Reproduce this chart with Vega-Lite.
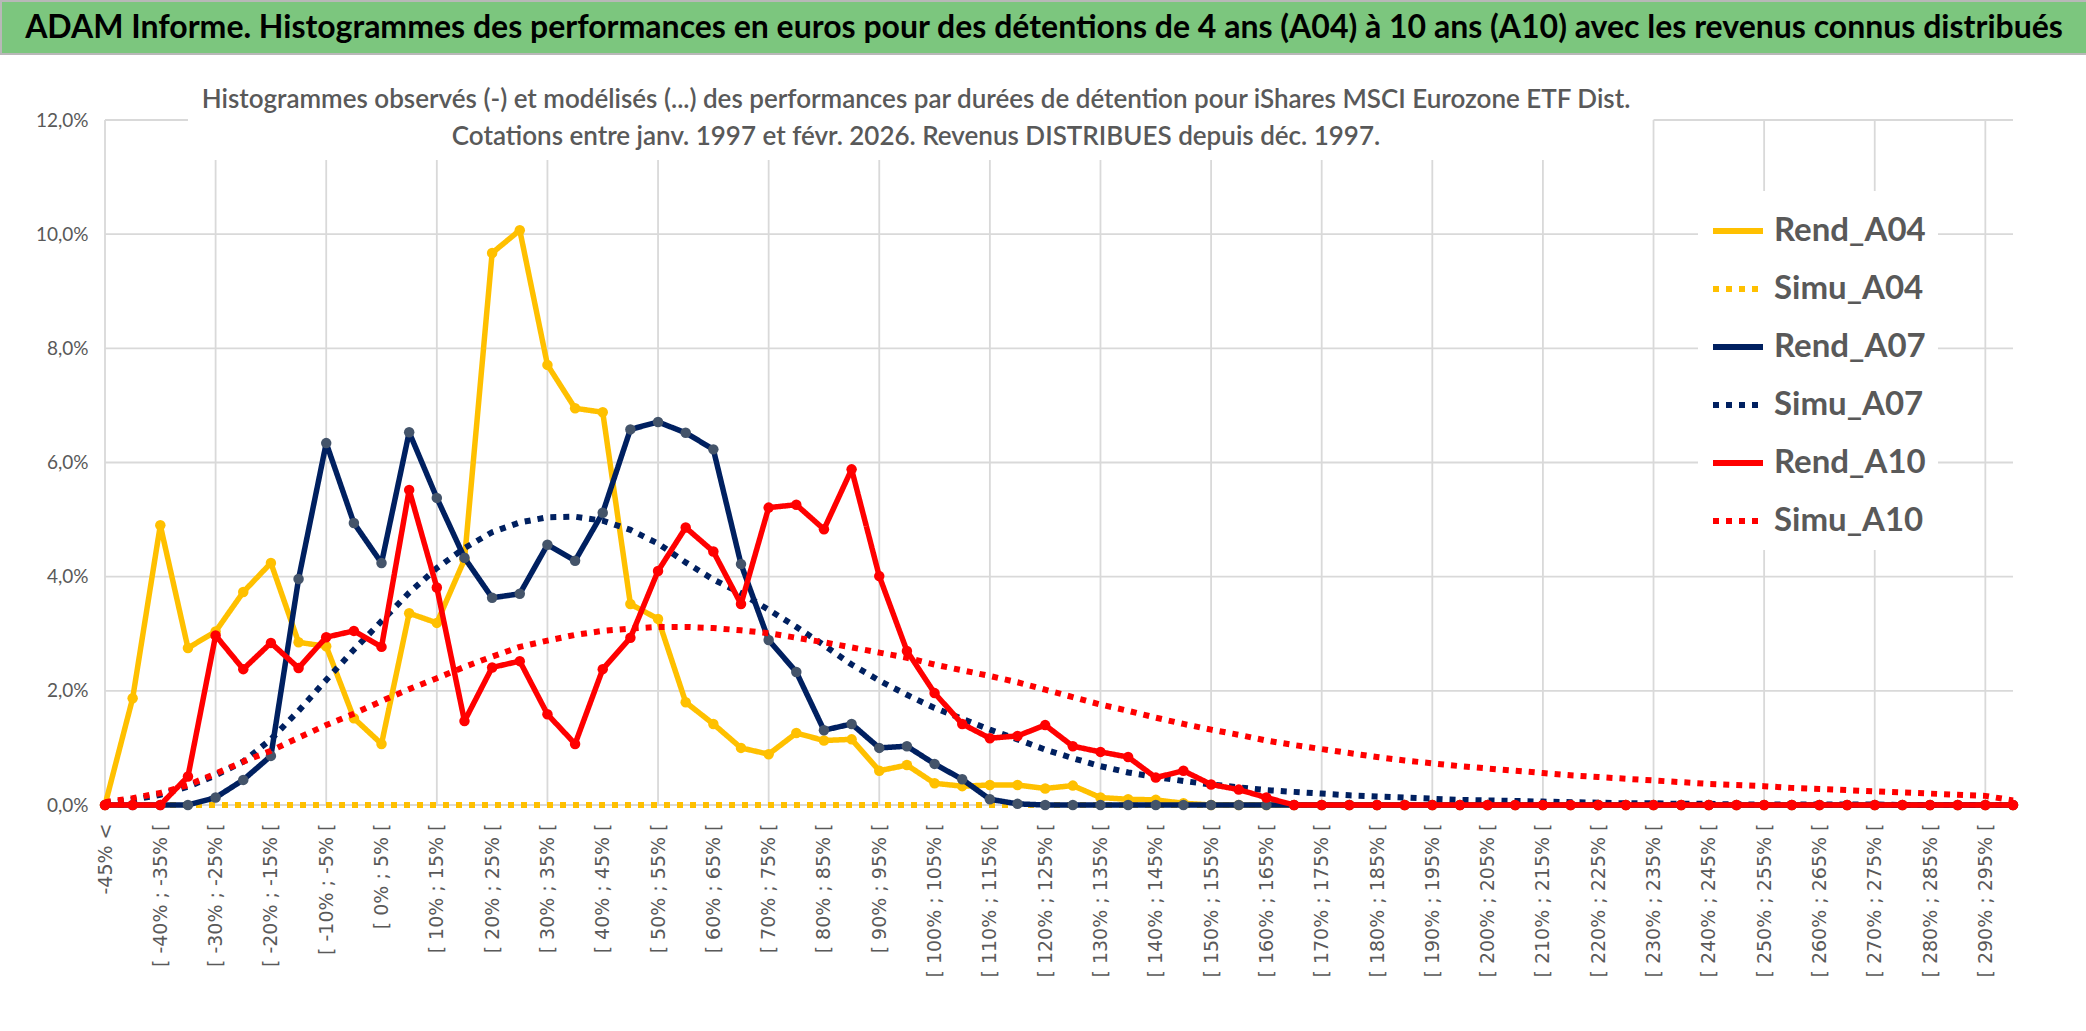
{
  "$schema": "https://vega.github.io/schema/vega-lite/v6.json",
  "padding": 0,
  "background": "#FFFFFF",
  "spacing": 66,
  "bounds": "flush",
  "config": {
    "view": {"stroke": null},
    "font": "Lato",
    "legend": {
      "orient": "none", "legendX": 1697, "legendY": 190,
      "fillColor": "#FFFFFF", "padding": 12,
      "symbolType": "stroke", "symbolSize": 2500, "symbolStrokeWidth": 6,
      "labelFont": "Lato", "labelFontSize": 33, "labelFontWeight": "bold", "labelColor": "#595959",
      "labelOffset": 8, "rowPadding": 13, "labelLimit": 400
    }
  },
  "datasets": {
    "hist": [
      {"cat": "-45% <", "Rend_A04": 0, "Simu_A04": 0, "Rend_A07": 0, "Simu_A07": 0.03, "Rend_A10": 0, "Simu_A10": 0.05},
      {"cat": "[ -45% ; -40% [", "Rend_A04": 1.87, "Simu_A04": 0, "Rend_A07": 0, "Simu_A07": 0.09, "Rend_A10": 0, "Simu_A10": 0.12},
      {"cat": "[ -40% ; -35% [", "Rend_A04": 4.9, "Simu_A04": 0, "Rend_A07": 0, "Simu_A07": 0.18, "Rend_A10": 0, "Simu_A10": 0.21},
      {"cat": "[ -35% ; -30% [", "Rend_A04": 2.75, "Simu_A04": 0, "Rend_A07": 0, "Simu_A07": 0.32, "Rend_A10": 0.5, "Simu_A10": 0.35},
      {"cat": "[ -30% ; -25% [", "Rend_A04": 3.04, "Simu_A04": 0, "Rend_A07": 0.13, "Simu_A07": 0.52, "Rend_A10": 2.97, "Simu_A10": 0.55},
      {"cat": "[ -25% ; -20% [", "Rend_A04": 3.73, "Simu_A04": 0, "Rend_A07": 0.44, "Simu_A07": 0.76, "Rend_A10": 2.38, "Simu_A10": 0.76},
      {"cat": "[ -20% ; -15% [", "Rend_A04": 4.24, "Simu_A04": 0, "Rend_A07": 0.86, "Simu_A07": 1.15, "Rend_A10": 2.84, "Simu_A10": 0.95},
      {"cat": "[ -15% ; -10% [", "Rend_A04": 2.85, "Simu_A04": 0, "Rend_A07": 3.96, "Simu_A07": 1.65, "Rend_A10": 2.4, "Simu_A10": 1.18},
      {"cat": "[ -10% ; -5% [", "Rend_A04": 2.78, "Simu_A04": 0, "Rend_A07": 6.34, "Simu_A07": 2.19, "Rend_A10": 2.94, "Simu_A10": 1.4},
      {"cat": "[ -5% ; 0% [", "Rend_A04": 1.52, "Simu_A04": 0, "Rend_A07": 4.94, "Simu_A07": 2.72, "Rend_A10": 3.05, "Simu_A10": 1.6},
      {"cat": "[ 0% ; 5% [", "Rend_A04": 1.07, "Simu_A04": 0, "Rend_A07": 4.24, "Simu_A07": 3.22, "Rend_A10": 2.77, "Simu_A10": 1.82},
      {"cat": "[ 5% ; 10% [", "Rend_A04": 3.36, "Simu_A04": 0, "Rend_A07": 6.53, "Simu_A07": 3.72, "Rend_A10": 5.52, "Simu_A10": 2.03},
      {"cat": "[ 10% ; 15% [", "Rend_A04": 3.19, "Simu_A04": 0, "Rend_A07": 5.38, "Simu_A07": 4.15, "Rend_A10": 3.81, "Simu_A10": 2.22},
      {"cat": "[ 15% ; 20% [", "Rend_A04": 4.3, "Simu_A04": 0, "Rend_A07": 4.33, "Simu_A07": 4.5, "Rend_A10": 1.47, "Simu_A10": 2.42},
      {"cat": "[ 20% ; 25% [", "Rend_A04": 9.67, "Simu_A04": 0, "Rend_A07": 3.63, "Simu_A07": 4.78, "Rend_A10": 2.41, "Simu_A10": 2.6},
      {"cat": "[ 25% ; 30% [", "Rend_A04": 10.07, "Simu_A04": 0, "Rend_A07": 3.7, "Simu_A07": 4.95, "Rend_A10": 2.52, "Simu_A10": 2.77},
      {"cat": "[ 30% ; 35% [", "Rend_A04": 7.71, "Simu_A04": 0, "Rend_A07": 4.56, "Simu_A07": 5.04, "Rend_A10": 1.59, "Simu_A10": 2.88},
      {"cat": "[ 35% ; 40% [", "Rend_A04": 6.95, "Simu_A04": 0, "Rend_A07": 4.28, "Simu_A07": 5.05, "Rend_A10": 1.07, "Simu_A10": 2.98},
      {"cat": "[ 40% ; 45% [", "Rend_A04": 6.88, "Simu_A04": 0, "Rend_A07": 5.12, "Simu_A07": 4.98, "Rend_A10": 2.38, "Simu_A10": 3.05},
      {"cat": "[ 45% ; 50% [", "Rend_A04": 3.52, "Simu_A04": 0, "Rend_A07": 6.58, "Simu_A07": 4.82, "Rend_A10": 2.93, "Simu_A10": 3.09},
      {"cat": "[ 50% ; 55% [", "Rend_A04": 3.26, "Simu_A04": 0, "Rend_A07": 6.71, "Simu_A07": 4.58, "Rend_A10": 4.1, "Simu_A10": 3.12},
      {"cat": "[ 55% ; 60% [", "Rend_A04": 1.8, "Simu_A04": 0, "Rend_A07": 6.52, "Simu_A07": 4.25, "Rend_A10": 4.86, "Simu_A10": 3.12},
      {"cat": "[ 60% ; 65% [", "Rend_A04": 1.42, "Simu_A04": 0, "Rend_A07": 6.23, "Simu_A07": 3.95, "Rend_A10": 4.44, "Simu_A10": 3.1},
      {"cat": "[ 65% ; 70% [", "Rend_A04": 1.0, "Simu_A04": 0, "Rend_A07": 4.22, "Simu_A07": 3.71, "Rend_A10": 3.52, "Simu_A10": 3.06},
      {"cat": "[ 70% ; 75% [", "Rend_A04": 0.89, "Simu_A04": 0, "Rend_A07": 2.89, "Simu_A07": 3.42, "Rend_A10": 5.21, "Simu_A10": 3.01},
      {"cat": "[ 75% ; 80% [", "Rend_A04": 1.26, "Simu_A04": 0, "Rend_A07": 2.33, "Simu_A07": 3.12, "Rend_A10": 5.26, "Simu_A10": 2.93},
      {"cat": "[ 80% ; 85% [", "Rend_A04": 1.13, "Simu_A04": 0, "Rend_A07": 1.31, "Simu_A07": 2.8, "Rend_A10": 4.83, "Simu_A10": 2.85},
      {"cat": "[ 85% ; 90% [", "Rend_A04": 1.15, "Simu_A04": 0, "Rend_A07": 1.42, "Simu_A07": 2.46, "Rend_A10": 5.88, "Simu_A10": 2.76},
      {"cat": "[ 90% ; 95% [", "Rend_A04": 0.6, "Simu_A04": 0, "Rend_A07": 1.0, "Simu_A07": 2.18, "Rend_A10": 4.01, "Simu_A10": 2.67},
      {"cat": "[ 95% ; 100% [", "Rend_A04": 0.7, "Simu_A04": 0, "Rend_A07": 1.03, "Simu_A07": 1.93, "Rend_A10": 2.7, "Simu_A10": 2.58},
      {"cat": "[ 100% ; 105% [", "Rend_A04": 0.38, "Simu_A04": 0, "Rend_A07": 0.72, "Simu_A07": 1.7, "Rend_A10": 1.96, "Simu_A10": 2.46},
      {"cat": "[ 105% ; 110% [", "Rend_A04": 0.33, "Simu_A04": 0, "Rend_A07": 0.45, "Simu_A07": 1.51, "Rend_A10": 1.42, "Simu_A10": 2.36},
      {"cat": "[ 110% ; 115% [", "Rend_A04": 0.35, "Simu_A04": 0, "Rend_A07": 0.1, "Simu_A07": 1.32, "Rend_A10": 1.17, "Simu_A10": 2.26},
      {"cat": "[ 115% ; 120% [", "Rend_A04": 0.35, "Simu_A04": 0, "Rend_A07": 0.02, "Simu_A07": 1.15, "Rend_A10": 1.21, "Simu_A10": 2.15},
      {"cat": "[ 120% ; 125% [", "Rend_A04": 0.29, "Simu_A04": 0, "Rend_A07": 0, "Simu_A07": 0.97, "Rend_A10": 1.4, "Simu_A10": 2.02},
      {"cat": "[ 125% ; 130% [", "Rend_A04": 0.34, "Simu_A04": 0, "Rend_A07": 0, "Simu_A07": 0.82, "Rend_A10": 1.03, "Simu_A10": 1.89},
      {"cat": "[ 130% ; 135% [", "Rend_A04": 0.13, "Simu_A04": 0, "Rend_A07": 0, "Simu_A07": 0.68, "Rend_A10": 0.93, "Simu_A10": 1.76},
      {"cat": "[ 135% ; 140% [", "Rend_A04": 0.1, "Simu_A04": 0, "Rend_A07": 0, "Simu_A07": 0.57, "Rend_A10": 0.84, "Simu_A10": 1.65},
      {"cat": "[ 140% ; 145% [", "Rend_A04": 0.09, "Simu_A04": 0, "Rend_A07": 0, "Simu_A07": 0.49, "Rend_A10": 0.48, "Simu_A10": 1.53},
      {"cat": "[ 145% ; 150% [", "Rend_A04": 0.03, "Simu_A04": 0, "Rend_A07": 0, "Simu_A07": 0.42, "Rend_A10": 0.6, "Simu_A10": 1.42},
      {"cat": "[ 150% ; 155% [", "Rend_A04": 0, "Simu_A04": 0, "Rend_A07": 0, "Simu_A07": 0.36, "Rend_A10": 0.36, "Simu_A10": 1.32},
      {"cat": "[ 155% ; 160% [", "Rend_A04": 0, "Simu_A04": 0, "Rend_A07": 0, "Simu_A07": 0.31, "Rend_A10": 0.27, "Simu_A10": 1.23},
      {"cat": "[ 160% ; 165% [", "Rend_A04": 0, "Simu_A04": 0, "Rend_A07": 0, "Simu_A07": 0.26, "Rend_A10": 0.13, "Simu_A10": 1.13},
      {"cat": "[ 165% ; 170% [", "Rend_A04": 0, "Simu_A04": 0, "Rend_A07": 0, "Simu_A07": 0.23, "Rend_A10": 0, "Simu_A10": 1.05},
      {"cat": "[ 170% ; 175% [", "Rend_A04": 0, "Simu_A04": 0, "Rend_A07": 0, "Simu_A07": 0.2, "Rend_A10": 0, "Simu_A10": 0.98},
      {"cat": "[ 175% ; 180% [", "Rend_A04": 0, "Simu_A04": 0, "Rend_A07": 0, "Simu_A07": 0.17, "Rend_A10": 0, "Simu_A10": 0.91},
      {"cat": "[ 180% ; 185% [", "Rend_A04": 0, "Simu_A04": 0, "Rend_A07": 0, "Simu_A07": 0.15, "Rend_A10": 0, "Simu_A10": 0.84},
      {"cat": "[ 185% ; 190% [", "Rend_A04": 0, "Simu_A04": 0, "Rend_A07": 0, "Simu_A07": 0.13, "Rend_A10": 0, "Simu_A10": 0.78},
      {"cat": "[ 190% ; 195% [", "Rend_A04": 0, "Simu_A04": 0, "Rend_A07": 0, "Simu_A07": 0.11, "Rend_A10": 0, "Simu_A10": 0.73},
      {"cat": "[ 195% ; 200% [", "Rend_A04": 0, "Simu_A04": 0, "Rend_A07": 0, "Simu_A07": 0.09, "Rend_A10": 0, "Simu_A10": 0.68},
      {"cat": "[ 200% ; 205% [", "Rend_A04": 0, "Simu_A04": 0, "Rend_A07": 0, "Simu_A07": 0.08, "Rend_A10": 0, "Simu_A10": 0.64},
      {"cat": "[ 205% ; 210% [", "Rend_A04": 0, "Simu_A04": 0, "Rend_A07": 0, "Simu_A07": 0.07, "Rend_A10": 0, "Simu_A10": 0.6},
      {"cat": "[ 210% ; 215% [", "Rend_A04": 0, "Simu_A04": 0, "Rend_A07": 0, "Simu_A07": 0.06, "Rend_A10": 0, "Simu_A10": 0.56},
      {"cat": "[ 215% ; 220% [", "Rend_A04": 0, "Simu_A04": 0, "Rend_A07": 0, "Simu_A07": 0.05, "Rend_A10": 0, "Simu_A10": 0.52},
      {"cat": "[ 220% ; 225% [", "Rend_A04": 0, "Simu_A04": 0, "Rend_A07": 0, "Simu_A07": 0.04, "Rend_A10": 0, "Simu_A10": 0.49},
      {"cat": "[ 225% ; 230% [", "Rend_A04": 0, "Simu_A04": 0, "Rend_A07": 0, "Simu_A07": 0.03, "Rend_A10": 0, "Simu_A10": 0.46},
      {"cat": "[ 230% ; 235% [", "Rend_A04": 0, "Simu_A04": 0, "Rend_A07": 0, "Simu_A07": 0.03, "Rend_A10": 0, "Simu_A10": 0.43},
      {"cat": "[ 235% ; 240% [", "Rend_A04": 0, "Simu_A04": 0, "Rend_A07": 0, "Simu_A07": 0.02, "Rend_A10": 0, "Simu_A10": 0.4},
      {"cat": "[ 240% ; 245% [", "Rend_A04": 0, "Simu_A04": 0, "Rend_A07": 0, "Simu_A07": 0.02, "Rend_A10": 0, "Simu_A10": 0.37},
      {"cat": "[ 245% ; 250% [", "Rend_A04": 0, "Simu_A04": 0, "Rend_A07": 0, "Simu_A07": 0.01, "Rend_A10": 0, "Simu_A10": 0.35},
      {"cat": "[ 250% ; 255% [", "Rend_A04": 0, "Simu_A04": 0, "Rend_A07": 0, "Simu_A07": 0.01, "Rend_A10": 0, "Simu_A10": 0.33},
      {"cat": "[ 255% ; 260% [", "Rend_A04": 0, "Simu_A04": 0, "Rend_A07": 0, "Simu_A07": 0.01, "Rend_A10": 0, "Simu_A10": 0.3},
      {"cat": "[ 260% ; 265% [", "Rend_A04": 0, "Simu_A04": 0, "Rend_A07": 0, "Simu_A07": 0.01, "Rend_A10": 0, "Simu_A10": 0.28},
      {"cat": "[ 265% ; 270% [", "Rend_A04": 0, "Simu_A04": 0, "Rend_A07": 0, "Simu_A07": 0.01, "Rend_A10": 0, "Simu_A10": 0.26},
      {"cat": "[ 270% ; 275% [", "Rend_A04": 0, "Simu_A04": 0, "Rend_A07": 0, "Simu_A07": 0.01, "Rend_A10": 0, "Simu_A10": 0.24},
      {"cat": "[ 275% ; 280% [", "Rend_A04": 0, "Simu_A04": 0, "Rend_A07": 0, "Simu_A07": 0, "Rend_A10": 0, "Simu_A10": 0.22},
      {"cat": "[ 280% ; 285% [", "Rend_A04": 0, "Simu_A04": 0, "Rend_A07": 0, "Simu_A07": 0, "Rend_A10": 0, "Simu_A10": 0.2},
      {"cat": "[ 285% ; 290% [", "Rend_A04": 0, "Simu_A04": 0, "Rend_A07": 0, "Simu_A07": 0, "Rend_A10": 0, "Simu_A10": 0.18},
      {"cat": "[ 290% ; 295% [", "Rend_A04": 0, "Simu_A04": 0, "Rend_A07": 0, "Simu_A07": 0, "Rend_A10": 0, "Simu_A10": 0.16},
      {"cat": "[ 295% ; 300% [", "Rend_A04": 0, "Simu_A04": 0, "Rend_A07": 0, "Simu_A07": 0, "Rend_A10": 0, "Simu_A10": 0.08}
    ]
  },
  "vconcat": [
    {
      "width": 2086,
      "height": 53,
      "view": {"fill": "#7CC67E", "stroke": "#B8B8B8", "strokeWidth": 2},
      "data": {"values": [{"t": "ADAM Informe. Histogrammes des performances en euros pour des détentions de 4 ans (A04) à 10 ans (A10) avec les revenus connus distribués"}]},
      "mark": {"type": "text", "font": "Lato", "fontSize": 32, "fontWeight": "bold", "color": "#000000", "align": "center", "baseline": "middle"},
      "encoding": {"text": {"field": "t", "type": "nominal"}}
    },
    {
      "width": 2086,
      "height": 685,
      "view": {"stroke": null},
      "title": {
        "text": ["Histogrammes observés (-) et modélisés (...) des performances par durées de détention pour iShares MSCI Eurozone ETF Dist.", "Cotations entre janv. 1997 et févr. 2026. Revenus DISTRIBUES depuis déc. 1997."],
        "anchor": "middle", "frame": "group", "orient": "top", "dx": -128, "dy": 52, "offset": 0,
        "baseline": "middle", "lineHeight": 37,
        "font": "Lato", "fontSize": 26, "fontWeight": 600, "color": "#595959"
      },
      "data": {"name": "hist"},
      "transform": [{"fold": ["Rend_A04", "Simu_A04", "Rend_A07", "Simu_A07", "Rend_A10", "Simu_A10"], "as": ["serie", "v"]}],
      "encoding": {
        "x": {
          "field": "cat", "type": "nominal",
          "scale": {
            "type": "point", "padding": 0, "rangeMin": 104, "rangeMax": 2012,
            "domain": ["-45% <", "[ -45% ; -40% [", "[ -40% ; -35% [", "[ -35% ; -30% [", "[ -30% ; -25% [", "[ -25% ; -20% [", "[ -20% ; -15% [", "[ -15% ; -10% [", "[ -10% ; -5% [", "[ -5% ; 0% [", "[ 0% ; 5% [", "[ 5% ; 10% [", "[ 10% ; 15% [", "[ 15% ; 20% [", "[ 20% ; 25% [", "[ 25% ; 30% [", "[ 30% ; 35% [", "[ 35% ; 40% [", "[ 40% ; 45% [", "[ 45% ; 50% [", "[ 50% ; 55% [", "[ 55% ; 60% [", "[ 60% ; 65% [", "[ 65% ; 70% [", "[ 70% ; 75% [", "[ 75% ; 80% [", "[ 80% ; 85% [", "[ 85% ; 90% [", "[ 90% ; 95% [", "[ 95% ; 100% [", "[ 100% ; 105% [", "[ 105% ; 110% [", "[ 110% ; 115% [", "[ 115% ; 120% [", "[ 120% ; 125% [", "[ 125% ; 130% [", "[ 130% ; 135% [", "[ 135% ; 140% [", "[ 140% ; 145% [", "[ 145% ; 150% [", "[ 150% ; 155% [", "[ 155% ; 160% [", "[ 160% ; 165% [", "[ 165% ; 170% [", "[ 170% ; 175% [", "[ 175% ; 180% [", "[ 180% ; 185% [", "[ 185% ; 190% [", "[ 190% ; 195% [", "[ 195% ; 200% [", "[ 200% ; 205% [", "[ 205% ; 210% [", "[ 210% ; 215% [", "[ 215% ; 220% [", "[ 220% ; 225% [", "[ 225% ; 230% [", "[ 230% ; 235% [", "[ 235% ; 240% [", "[ 240% ; 245% [", "[ 245% ; 250% [", "[ 250% ; 255% [", "[ 255% ; 260% [", "[ 260% ; 265% [", "[ 265% ; 270% [", "[ 270% ; 275% [", "[ 275% ; 280% [", "[ 280% ; 285% [", "[ 285% ; 290% [", "[ 290% ; 295% [", "[ 295% ; 300% ["]
          },
          "axis": {
            "values": ["-45% <", "[ -40% ; -35% [", "[ -30% ; -25% [", "[ -20% ; -15% [", "[ -10% ; -5% [", "[ 0% ; 5% [", "[ 10% ; 15% [", "[ 20% ; 25% [", "[ 30% ; 35% [", "[ 40% ; 45% [", "[ 50% ; 55% [", "[ 60% ; 65% [", "[ 70% ; 75% [", "[ 80% ; 85% [", "[ 90% ; 95% [", "[ 100% ; 105% [", "[ 110% ; 115% [", "[ 120% ; 125% [", "[ 130% ; 135% [", "[ 140% ; 145% [", "[ 150% ; 155% [", "[ 160% ; 165% [", "[ 170% ; 175% [", "[ 180% ; 185% [", "[ 190% ; 195% [", "[ 200% ; 205% [", "[ 210% ; 215% [", "[ 220% ; 225% [", "[ 230% ; 235% [", "[ 240% ; 245% [", "[ 250% ; 255% [", "[ 260% ; 265% [", "[ 270% ; 275% [", "[ 280% ; 285% [", "[ 290% ; 295% ["],
            "grid": false, "domain": false, "ticks": false, "title": null,
            "labelAngle": -90, "labelAlign": "right", "labelBaseline": "middle", "labelPadding": 18,
            "labelFont": "DejaVu Sans", "labelFontSize": 19, "labelColor": "#595959",
            "labelOverlap": false, "labelLimit": 400
          }
        },
        "y": {
          "field": "v", "type": "quantitative",
          "scale": {"domain": [0, 12], "nice": false, "zero": true},
          "axis": {
            "values": [0, 2, 4, 6, 8, 10, 12],
            "grid": false, "domain": false, "ticks": false, "title": null,
            "labelExpr": "replace(format(datum.value, '.1f'), '.', ',') + '%'",
            "labelFont": "Lato", "labelFontSize": 19, "labelColor": "#595959",
            "offset": -90, "labelPadding": 3
          }
        },
        "color": {
          "field": "serie", "type": "nominal",
          "scale": {
            "domain": ["Rend_A04", "Simu_A04", "Rend_A07", "Simu_A07", "Rend_A10", "Simu_A10"],
            "range": ["#FFC000", "#FFC000", "#002060", "#002060", "#FF0000", "#FF0000"]
          },
          "legend": {"title": null}
        },
        "strokeDash": {
          "field": "serie", "type": "nominal",
          "scale": {
            "domain": ["Rend_A04", "Simu_A04", "Rend_A07", "Simu_A07", "Rend_A10", "Simu_A10"],
            "range": [[1, 0], [6, 7], [1, 0], [6, 7], [1, 0], [6, 7]]
          },
          "legend": {"title": null}
        }
      },
      "layer": [
        {
          "transform": [{"filter": {"and": [{"field": "serie", "equal": "Rend_A04"}, {"field": "cat", "oneOf": ["-45% <", "[ 230% ; 235% [", "[ 250% ; 255% [", "[ 270% ; 275% [", "[ 290% ; 295% ["]}]}}],
          "mark": {"type": "rule", "strokeWidth": 1.8},
          "encoding": {
            "y": {"datum": 0, "type": "quantitative"},
            "y2": {"datum": 12},
            "color": {"value": "#D9D9D9"},
            "strokeDash": {"value": [1, 0]}
          }
        },
        {
          "transform": [{"filter": {"and": [{"field": "serie", "equal": "Rend_A04"}, {"field": "cat", "oneOf": ["[ -30% ; -25% [", "[ -10% ; -5% [", "[ 10% ; 15% [", "[ 30% ; 35% [", "[ 50% ; 55% [", "[ 70% ; 75% [", "[ 90% ; 95% [", "[ 110% ; 115% [", "[ 130% ; 135% [", "[ 150% ; 155% [", "[ 170% ; 175% [", "[ 190% ; 195% [", "[ 210% ; 215% ["]}]}}],
          "mark": {"type": "rule", "strokeWidth": 1.8},
          "encoding": {
            "y": {"datum": 0, "type": "quantitative"},
            "y2": {"datum": 11.3},
            "color": {"value": "#D9D9D9"},
            "strokeDash": {"value": [1, 0]}
          }
        },
        {
          "data": {"values": [{"g": 0}, {"g": 2}, {"g": 4}, {"g": 6}, {"g": 8}, {"g": 10}]},
          "mark": {"type": "rule", "strokeWidth": 1.8},
          "encoding": {
            "x": {"datum": "-45% <", "type": "nominal"},
            "x2": {"datum": "[ 295% ; 300% ["},
            "y": {"field": "g", "type": "quantitative"},
            "color": {"value": "#D9D9D9"},
            "strokeDash": {"value": [1, 0]}
          }
        },
        {
          "data": {"values": [{"g": 12}]},
          "mark": {"type": "rule", "strokeWidth": 1.8},
          "encoding": {
            "x": {"datum": "-45% <", "type": "nominal"},
            "x2": {"datum": "[ -35% ; -30% ["},
            "y": {"field": "g", "type": "quantitative"},
            "color": {"value": "#D9D9D9"},
            "strokeDash": {"value": [1, 0]}
          }
        },
        {
          "data": {"values": [{"g": 12}]},
          "mark": {"type": "rule", "strokeWidth": 1.8},
          "encoding": {
            "x": {"datum": "[ 230% ; 235% [", "type": "nominal"},
            "x2": {"datum": "[ 295% ; 300% ["},
            "y": {"field": "g", "type": "quantitative"},
            "color": {"value": "#D9D9D9"},
            "strokeDash": {"value": [1, 0]}
          }
        },
        {
          "transform": [{"filter": {"field": "serie", "equal": "Rend_A04"}}],
          "mark": {"type": "line", "strokeWidth": 5.5, "strokeJoin": "round"}
        },
        {
          "transform": [{"filter": {"field": "serie", "equal": "Rend_A04"}}],
          "mark": {"type": "point", "filled": true, "size": 110, "opacity": 1},
          "encoding": {"color": {"value": "#FFC000"}, "strokeDash": {"value": [1, 0]}}
        },
        {
          "transform": [{"filter": {"field": "serie", "equal": "Simu_A04"}}],
          "mark": {"type": "line", "strokeWidth": 6}
        },
        {
          "transform": [{"filter": {"field": "serie", "equal": "Rend_A07"}}],
          "mark": {"type": "line", "strokeWidth": 5.5, "strokeJoin": "round"}
        },
        {
          "transform": [{"filter": {"field": "serie", "equal": "Rend_A07"}}],
          "mark": {"type": "point", "filled": true, "size": 110, "opacity": 1},
          "encoding": {"color": {"value": "#44546A"}, "strokeDash": {"value": [1, 0]}}
        },
        {
          "transform": [{"filter": {"field": "serie", "equal": "Simu_A07"}}],
          "mark": {"type": "line", "strokeWidth": 6}
        },
        {
          "transform": [{"filter": {"field": "serie", "equal": "Rend_A10"}}],
          "mark": {"type": "line", "strokeWidth": 5.5, "strokeJoin": "round"}
        },
        {
          "transform": [{"filter": {"field": "serie", "equal": "Rend_A10"}}],
          "mark": {"type": "point", "filled": true, "size": 110, "opacity": 1},
          "encoding": {"color": {"value": "#FF0000"}, "strokeDash": {"value": [1, 0]}}
        },
        {
          "transform": [{"filter": {"field": "serie", "equal": "Simu_A10"}}],
          "mark": {"type": "line", "strokeWidth": 6}
        }
      ]
    }
  ]
}
